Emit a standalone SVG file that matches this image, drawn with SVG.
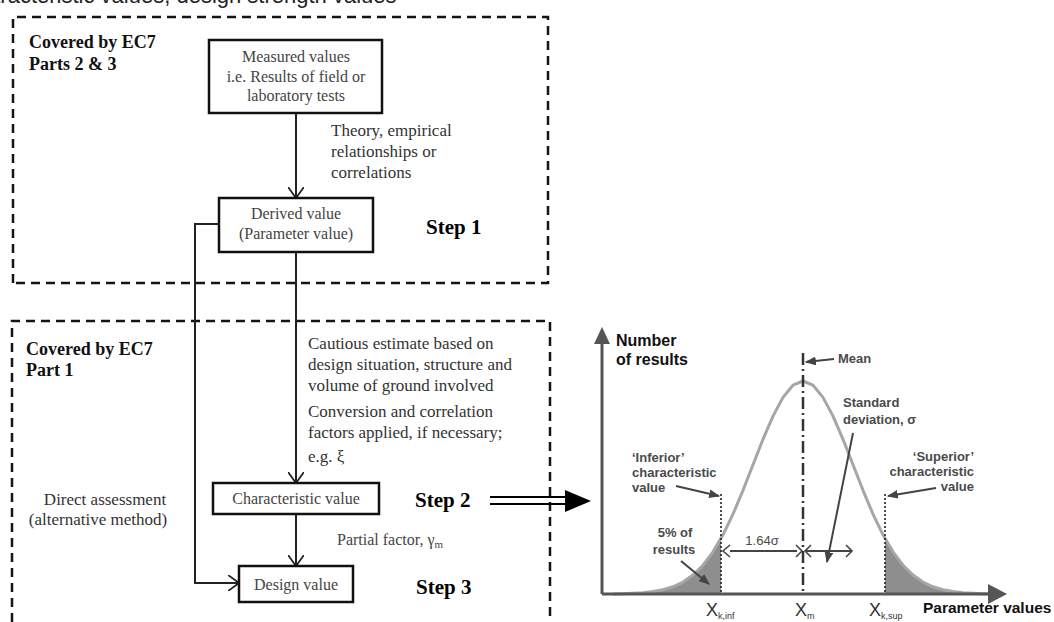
<svg xmlns="http://www.w3.org/2000/svg" width="1054" height="622" viewBox="0 0 1054 622">
<defs>
<style>
.serif{font-family:"Liberation Serif","Times New Roman",serif;}
.sans{font-family:"Liberation Sans",Arial,sans-serif;}
.box{fill:#fff;stroke:#111;stroke-width:2.5;}
.dash{fill:none;stroke:#151515;stroke-width:2.5;stroke-dasharray:9 6;}
.conn{fill:none;stroke:#222;stroke-width:2;}
.btxt{font-size:16px;fill:#444;text-anchor:middle;}
.note{font-size:17px;fill:#333;}
.hd{font-size:18px;font-weight:bold;fill:#111;}
.step{font-size:21px;font-weight:bold;fill:#000;}
.ct{font-size:13px;font-weight:bold;fill:#4a4a4a;}
.ax{font-size:16px;font-weight:bold;fill:#111;}
.axis{stroke:#555;stroke-width:3;fill:none;}
.ca{stroke:#444;stroke-width:2;fill:none;}
</style>
<marker id="open" viewBox="0 0 12 16" markerWidth="12" markerHeight="16" refX="11" refY="8" orient="auto" markerUnits="userSpaceOnUse">
<path d="M0,0 L11,8 L0,16" fill="none" stroke="#222" stroke-width="1.8"/>
</marker>
<marker id="fa" viewBox="0 0 10 8" markerWidth="11" markerHeight="9" refX="9" refY="4" orient="auto" markerUnits="userSpaceOnUse">
<path d="M0,0 L10,4 L0,8 z" fill="#444"/>
</marker>
</defs>
<rect width="1054" height="622" fill="#fff"/>

<text class="sans" x="-40" y="2.5" font-size="22" fill="#222">Characteristic values, design strength values</text>

<g id="region-parts23">
<path class="dash" d="M13,283 V17 H548 V283 H13"/>
<text class="serif hd" x="29" y="48">Covered by EC7</text>
<text class="serif hd" x="29" y="70">Parts 2 &amp; 3</text>
</g>
<g id="region-part1">
<path class="dash" d="M12,622 V321 H550 V622"/>
<text class="serif hd" x="26" y="355">Covered by EC7</text>
<text class="serif hd" x="26" y="376">Part 1</text>
</g>

<g id="connectors">
<path class="conn" d="M296,113 V198" marker-end="url(#open)"/>
<path class="conn" d="M296,252 V483" marker-end="url(#open)"/>
<path class="conn" d="M296,514 V566" stroke-width="1.4" marker-end="url(#open)"/>
<path class="conn" d="M219,224 H195 V583 H239" marker-end="url(#open)"/>
<g id="step2-arrow">
<line x1="490" y1="497" x2="568" y2="497" stroke="#000" stroke-width="2"/>
<line x1="490" y1="504" x2="568" y2="504" stroke="#000" stroke-width="2"/>
<polygon points="565,490 591,501 565,512" fill="#000"/>
</g>
</g>

<g id="measured">
<rect class="box" x="209" y="40" width="173" height="73"/>
<text class="serif btxt" x="296" y="62">Measured values</text>
<text class="serif btxt" x="296" y="82">i.e. Results of field or</text>
<text class="serif btxt" x="296" y="101">laboratory tests</text>
</g>
<g id="theory-label">
<text class="serif note" x="331" y="136">Theory, empirical</text>
<text class="serif note" x="331" y="157">relationships or</text>
<text class="serif note" x="331" y="178">correlations</text>
</g>
<g id="derived">
<rect class="box" x="219" y="198" width="154" height="54"/>
<text class="serif btxt" x="296" y="219" fill="#555">Derived value</text>
<text class="serif btxt" x="296" y="239" fill="#555">(Parameter value)</text>
</g>
<g id="step1"><text class="serif step" x="426" y="234">Step 1</text></g>

<g id="cautious-label">
<text class="serif note" x="308" y="349">Cautious estimate based on</text>
<text class="serif note" x="308" y="370">design situation, structure and</text>
<text class="serif note" x="308" y="391">volume of ground involved</text>
<text class="serif note" x="308" y="417">Conversion and correlation</text>
<text class="serif note" x="308" y="438">factors applied, if necessary;</text>
<text class="serif note" x="308" y="462">e.g. ξ</text>
</g>
<g id="characteristic">
<rect class="box" x="213" y="483" width="166" height="31"/>
<text class="serif btxt" x="296" y="504">Characteristic value</text>
</g>
<g id="step2"><text class="serif step" x="415" y="507">Step 2</text></g>
<g id="partial-label">
<text class="serif" x="337" y="545" font-size="16" fill="#444">Partial factor, γ<tspan font-size="11" dy="3">m</tspan></text>
</g>
<g id="direct-label">
<text class="serif note" x="105" y="505" text-anchor="middle" fill="#444">Direct assessment</text>
<text class="serif note" x="98" y="525" text-anchor="middle" fill="#444">(alternative method)</text>
</g>
<g id="design">
<rect class="box" x="239" y="566" width="114" height="36"/>
<text class="serif btxt" x="296" y="590" font-size="16.5">Design value</text>
</g>
<g id="step3"><text class="serif step" x="416" y="594">Step 3</text></g>

<g id="chart">
<polygon points="613,594 613,593.9 623,593.7 633,593.3 643,592.7 653,591.6 663,589.8 673,586.8 683,582.1 693,575.1 703,565.2 713,551.8 721,538.5 721,594" fill="#8e8e8e"/>
<polygon points="885,594 885,538.5 893,551.8 903,565.2 913,575.1 923,582.1 933,586.8 943,589.8 953,591.6 963,592.7 973,593.3 983,593.7 993,593.9 993,594" fill="#8e8e8e"/>
<polyline fill="none" stroke="#a6a6a6" stroke-width="3" stroke-linejoin="round" points="613,593.9 623,593.7 633,593.3 643,592.7 653,591.6 663,589.8 673,586.8 683,582.1 693,575.1 703,565.2 713,551.8 723,534.8 733,514.1 743,490.3 753,464.8 763,439.3 773,416.1 783,397.4 793,385.2 803,381 813,385.2 823,397.4 833,416.1 843,439.3 853,464.8 863,490.3 873,514.1 883,534.8 893,551.8 903,565.2 913,575.1 923,582.1 933,586.8 943,589.8 953,591.6 963,592.7 973,593.3 983,593.7 993,593.9"/>
<line x1="803" y1="353" x2="803" y2="594" stroke="#333" stroke-width="2.5" stroke-dasharray="12 4 2 4"/>
<line x1="721" y1="494" x2="721" y2="594" stroke="#222" stroke-width="1.6" stroke-dasharray="2 2"/>
<line x1="885" y1="494" x2="885" y2="594" stroke="#222" stroke-width="1.6" stroke-dasharray="2 2"/>
<path class="axis" d="M602,594 V340"/>
<polygon points="594,344 602,327 610,344" fill="#555"/>
<path class="axis" d="M602,594 H990"/>
<polygon points="988,584 1007,594 988,604" fill="#555"/>
<text class="sans ax" x="616" y="346">Number</text>
<text class="sans ax" x="616" y="365">of results</text>
<text class="sans" x="923" y="613" font-size="15.5" font-weight="bold" fill="#111">Parameter values</text>
<text class="sans ct" x="838" y="363">Mean</text>
<path class="ca" d="M834,359 L806,362" marker-end="url(#fa)"/>
<text class="sans ct" x="843" y="407">Standard</text>
<text class="sans ct" x="843" y="424">deviation, σ</text>
<path class="ca" d="M853,433 L827,562" marker-end="url(#fa)"/>
<text class="sans ct" x="632" y="462">‘Inferior’</text>
<text class="sans ct" x="632" y="477">characteristic</text>
<text class="sans ct" x="632" y="492">value</text>
<path class="ca" d="M676,486 L719,496" marker-end="url(#fa)"/>
<text class="sans ct" x="974" y="461" text-anchor="end">‘Superior’</text>
<text class="sans ct" x="974" y="476" text-anchor="end">characteristic</text>
<text class="sans ct" x="974" y="491" text-anchor="end">value</text>
<path class="ca" d="M936,488 L888,496" marker-end="url(#fa)"/>
<text class="sans ct" x="675" y="537" text-anchor="middle">5% of</text>
<text class="sans ct" x="674" y="554" text-anchor="middle">results</text>
<path class="ca" d="M681,561 L709,584" marker-end="url(#fa)"/>
<text class="sans" x="762" y="545" font-size="13" fill="#4a4a4a" text-anchor="middle">1.64σ</text>
<path class="ca" d="M730,551 H797" stroke-width="1.6"/>
<path d="M730,545 L723,551 L730,557 M796,545 L802,551 L796,557" fill="none" stroke="#444" stroke-width="1.6"/>
<path class="ca" d="M805,551 H852" stroke-width="1.6"/>
<path d="M811,545 L805,551 L811,557 M846,545 L852,551 L846,557" fill="none" stroke="#444" stroke-width="1.6"/>
<text class="sans" x="706" y="616" font-size="18" fill="#333">X<tspan font-size="9" dy="3">k,inf</tspan></text>
<text class="sans" x="795" y="616" font-size="18" fill="#333">X<tspan font-size="9" dy="3">m</tspan></text>
<text class="sans" x="869" y="616" font-size="18" fill="#333">X<tspan font-size="9" dy="3">k,sup</tspan></text>
</g>
</svg>
